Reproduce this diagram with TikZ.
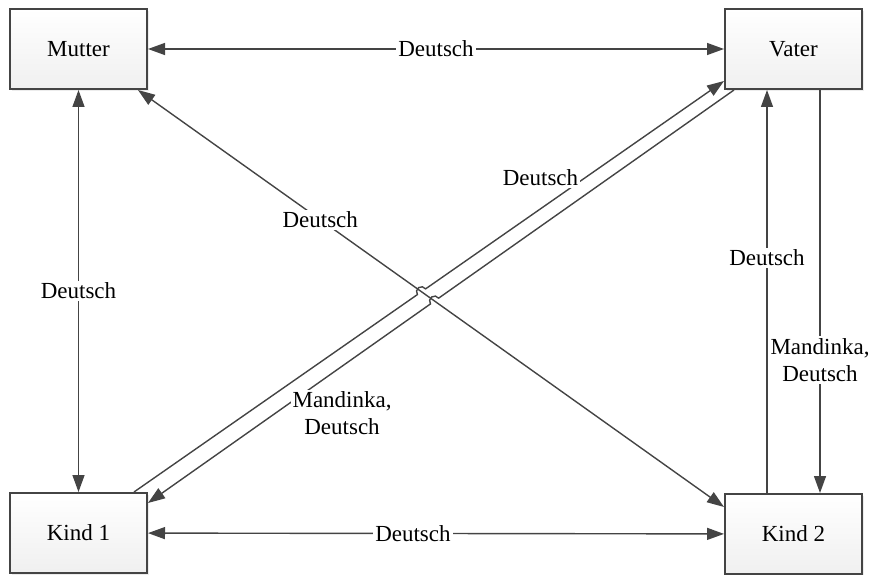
\documentclass[tikz,border=0pt]{standalone}
\usepackage{fontspec}
\setmainfont{Liberation Serif}
\usetikzlibrary{arrows.meta,calc,intersections,shadows}
\definecolor{Edge}{RGB}{68,68,68}

\begin{document}
\begin{tikzpicture}[x=0.5pt,y=0.5pt,
  person/.style={draw=Edge,line width=1pt,top color=white,bottom color=gray!12,
    minimum width=68.5pt,minimum height=40pt,font=\fontsize{11.5}{13.5}\selectfont,
    drop shadow={opacity=0.15,shadow xshift=1pt,shadow yshift=-1pt}},
  link/.style={draw=Edge,line width=0.7pt,-{Triangle[length=8.5pt,width=6pt]}},
  both/.style={link,{Triangle[length=8.5pt,width=6pt]}-{Triangle[length=8.5pt,width=6pt]}},
  lang/.style={fill=white,inner sep=1pt,align=center,font=\fontsize{11.5}{13.5}\selectfont}]
  \useasboundingbox (0,0) rectangle (872,574);

  % family
  \node[person] (mutter) at (78.5,525) {Mutter};
  \node[person] (vater) at (793.5,525) {Vater};
  \node[person] (kind1) at (78.5,41) {Kind 1};
  \node[person] (kind2) at (793.5,40) {Kind 2};

  % end points on the boxes
  \coordinate (k1top) at ($(kind1.north east)+(-14,0)$);
  \coordinate (k1side) at ($(kind1.north east)+(0,-11)$);
  \coordinate (vside) at ($(vater.south west)+(0,9)$);
  \coordinate (vbot) at ($(vater.south west)+(10,0)$);
  \coordinate (k2side) at ($(kind2.north west)+(0,-14)$);
  \coordinate (mbot) at ($(mutter.south east)+(-10,0)$);

  \draw[both] (mutter) -- (vater) node[lang,pos=0.5] {Deutsch};
  \draw[both] (mutter) -- (kind1) node[lang,pos=0.5] {Deutsch};
  \draw[both] (kind1) -- (kind2) node[lang,pos=0.46] {Deutsch};
  \draw[both,name path=diag] (k2side) -- (mbot) node[lang,pos=0.689] {Deutsch};
  \draw[link] ($(kind2.north west)+(43,0)$) -- ($(vater.south west)+(43,0)$)
    node[lang,pos=0.583] {Deutsch};
  \draw[link] ($(vater.south west)+(96,0)$) -- ($(kind2.north west)+(96,0)$)
    node[lang,pos=0.67] {Mandinka,\\Deutsch};

  % the two crossing lines hop over the diagonal
  \path[name path=up] (k1top) -- (vside);
  \path[name path=down] (vbot) -- (k1side);
  \path[name intersections={of=diag and up,by=hopa}];
  \path[name intersections={of=diag and down,by=hopb}];
  \draw[link] let \p1=($(vside)-(k1top)$), \n1={atan2(\y1,\x1)} in
    (k1top) -- ($(hopa)!2.5pt!(k1top)$) arc[start angle=\n1+180,delta angle=-180,radius=2.5pt]
    -- (vside) node[lang,pos=0.385,yshift=15.5pt] {Deutsch};
  \draw[link] let \p1=($(k1side)-(vbot)$), \n1={atan2(\y1,\x1)} in
    (vbot) -- ($(hopb)!2.5pt!(vbot)$) arc[start angle=\n1+180,delta angle=180,radius=2.5pt]
    -- (k1side) node[lang,pos=0.313,yshift=-23.5pt] {Mandinka,\\Deutsch};
\end{tikzpicture}
\end{document}
